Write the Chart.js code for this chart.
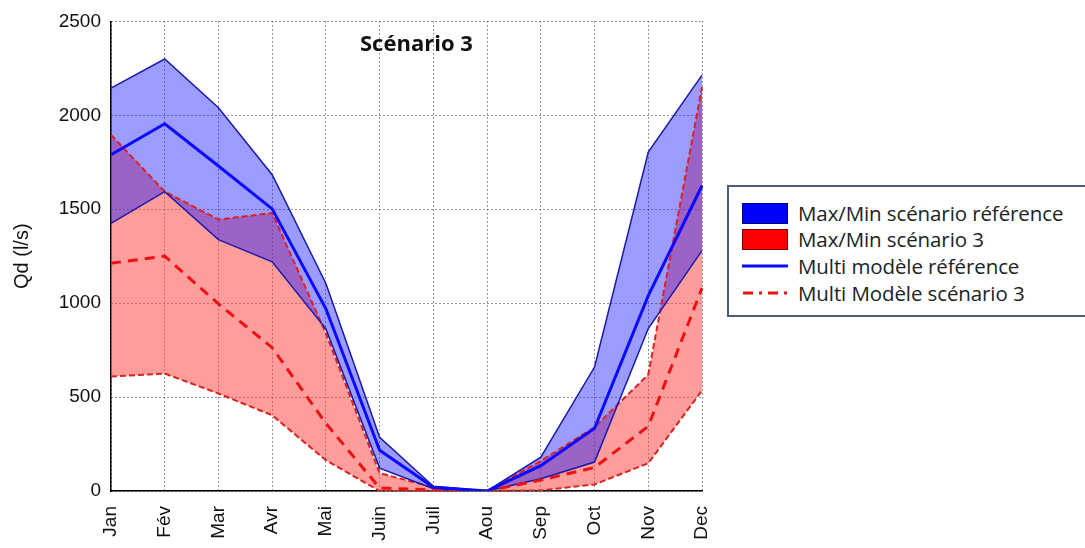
<!DOCTYPE html>
<html>
<head>
<meta charset="utf-8">
<script src="https://cdn.jsdelivr.net/npm/chart.js@4/dist/chart.umd.min.js"></script>
<style>
  body { margin: 0; background: #fff; }
  #wrap { position: relative; width: 1085px; height: 548px; }
  #title { position: absolute; left: 360px; top: 27px; font: bold 22px "Open Sans", sans-serif; color: #111; }
  #legend { position: absolute; left: 727px; top: 185px; width: 370px; height: 128px;
            border: 2px solid #4a5c80; background: #fff; box-sizing: content-box; }
  .row { position: absolute; left: 13px; height: 24px; display: flex; align-items: center; }
  .row span { margin-left: 10px; font: 20.5px "Open Sans", sans-serif; color: #222; white-space: nowrap; letter-spacing: -0.1px; }
</style>
</head>
<body>
<div id="wrap">
  <canvas id="chart" width="1085" height="548"></canvas>
  <div id="title">Scénario 3</div>
  <div id="legend"></div>
</div>
<script>
// months on the x axis
const months = ['Jan', 'Fév', 'Mar', 'Avr', 'Mai', 'Juin', 'Juil', 'Aou', 'Sep', 'Oct', 'Nov', 'Dec'];

// reference scenario (blue)
const refMax  = [2145, 2300, 2040, 1684, 1105, 286, 25, 0, 180, 660, 1805, 2214];
const refMean = [1790, 1955, 1730, 1502, 970, 217, 20, 0, 135, 334, 1040, 1625];
const refMin  = [1425, 1594, 1338, 1220, 863, 122, 12, 0, 65, 154, 865, 1280];

// scenario 3 (red)
const s3Max  = [1896, 1594, 1445, 1480, 840, 95, 20, 0, 160, 340, 620, 2150];
const s3Mean = [1213, 1250, 996, 763, 360, 16, 5, 0, 58, 125, 345, 1080];
const s3Min  = [609, 625, 519, 403, 164, 0, 0, 0, 3, 35, 148, 535];

const yTicks = [0, 500, 1000, 1500, 2000, 2500];
const legendNames = ['Max/Min scénario référence', 'Max/Min scénario 3', 'Multi modèle référence', 'Multi Modèle scénario 3'];

const ctx = document.getElementById('chart').getContext('2d');

new Chart(ctx, {
    type: 'line',
    data: {
        labels: months,
        datasets: [
            { label: legendNames[2], data: refMean, borderColor: '#0a0aff', borderWidth: 3, fill: false },
            { label: legendNames[3], data: s3Mean, borderColor: '#ee1111', borderWidth: 3, borderDash: [10, 7], fill: false },
            { label: legendNames[0], data: refMax, borderColor: '#1a1aa8', borderWidth: 1.5, fill: '+1', backgroundColor: 'rgba(20,20,255,0.42)' },
            { label: 'refMin', data: refMin, borderColor: '#1a1aa8', borderWidth: 1.5, fill: false },
            { label: legendNames[1], data: s3Max, borderColor: '#dd2020', borderWidth: 2, borderDash: [6, 3], fill: '+1', backgroundColor: 'rgba(255,60,60,0.5)' },
            { label: 's3Min', data: s3Min, borderColor: '#dd2020', borderWidth: 2, borderDash: [6, 3], fill: false }
        ]
    },
    options: {
        responsive: false,
        animation: false,
        layout: { padding: { top: 19, right: 383, left: 0, bottom: 0 } },
        elements: { point: { radius: 0 }, line: { tension: 0 } },
        plugins: {
            legend: { display: false },
            tooltip: { enabled: false },
            filler: { drawTime: 'beforeDatasetsDraw' }
        },
        scales: {
            x: {
                offset: false,
                grid: { color: '#333', lineWidth: 1, drawTicks: false },
                border: { display: true, color: '#000', width: 1.5, dash: [1, 3] },
                ticks: { color: '#111', font: { family: 'Liberation Sans', size: 19 }, minRotation: 90, maxRotation: 90, padding: 15, autoSkip: false },
                afterFit: scale => { scale.height = 57; }
            },
            y: {
                min: 0,
                max: 2500,
                afterBuildTicks: scale => { scale.ticks = yTicks.map(v => ({ value: v })); },
                grid: { color: '#333', lineWidth: 1, drawTicks: false },
                border: { display: true, color: '#000', width: 1.5, dash: [1, 3] },
                ticks: { color: '#111', font: { family: 'Liberation Sans', size: 19 }, padding: 10, callback: v => String(v) },
                title: { display: true, text: 'Qd (l/s)', color: '#111', font: { family: 'Liberation Sans', size: 20 }, padding: { top: 10, bottom: 0 } },
                afterFit: scale => { scale.width = 111; }
            }
        }
    }
});

// legend box built from the names above
const swatches = [
    '<div style="width:44px;height:19px;background:#0000ff;border:1px solid #000080"></div>',
    '<div style="width:44px;height:19px;background:#ff0000;border:1px solid #800000"></div>',
    '<svg width="46" height="6"><line x1="0" y1="3" x2="46" y2="3" stroke="#0a0aff" stroke-width="3"/></svg>',
    '<svg width="46" height="6"><line x1="1" y1="3" x2="46" y2="3" stroke="#ee1111" stroke-width="3" stroke-dasharray="10 6 3 6"/></svg>'
];
const rowTops = [14, 40, 67, 94];
const legend = document.getElementById('legend');
legendNames.forEach((name, i) => {
    const row = document.createElement('div');
    row.className = 'row';
    row.style.top = rowTops[i] + 'px';
    row.innerHTML = swatches[i] + '<span>' + name + '</span>';
    legend.appendChild(row);
});
</script>
</body>
</html>
